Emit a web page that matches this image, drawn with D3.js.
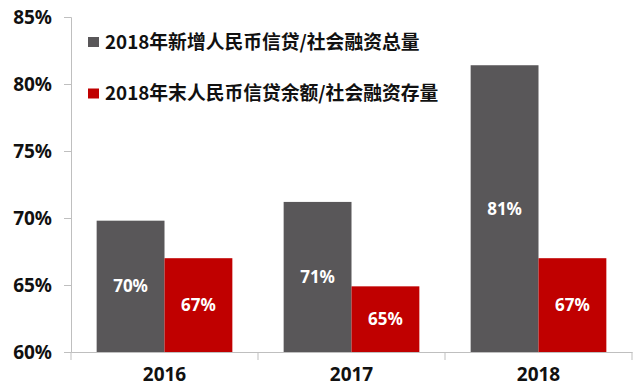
<!DOCTYPE html>
<html><head><meta charset="utf-8">
<script src="https://cdn.jsdelivr.net/npm/d3@7"></script>
<style>body{margin:0;background:#fff;} svg{display:block;font-family:"Noto Sans CJK SC","Noto Sans",sans-serif;}</style>
</head><body>
<svg id="c" width="641" height="391"></svg>
<script>
const categories = ["2016", "2017", "2018"];
const seriesNames = ["2018年新增人民币信贷/社会融资总量", "2018年末人民币信贷余额/社会融资存量"];
const newLoanShare = [69.8, 71.2, 81.4];
const stockLoanShare = [67.0, 64.9, 67.0];
const labelsNew = ["70%", "71%", "81%"];
const labelsStock = ["67%", "65%", "67%"];
const yTicks = [60, 65, 70, 75, 80, 85];
const colors = ["#595759", "#c00000"];

const svg = d3.select("#c");
const x0 = 71, x1 = 632, yTop = 17, yBot = 352;
const x = d3.scaleBand().domain(categories).range([x0, x1]).paddingInner(0).paddingOuter(0);
const xs = d3.scaleBand().domain([0, 1]).range([0, x.bandwidth()]).paddingInner(0).paddingOuter(0.378);
const y = d3.scaleLinear().domain([60, 85]).range([yBot, yTop]);

// y axis
const yAxis = svg.append("g").attr("transform", `translate(${x0},0)`)
  .call(d3.axisLeft(y).tickValues(yTicks).tickFormat(d => d + "%").tickSize(7).tickPadding(12));
yAxis.select(".domain").attr("stroke", "#bfbfbf");
yAxis.selectAll(".tick line").attr("stroke", "#bfbfbf");
yAxis.selectAll("text").attr("font-size", 19).attr("font-weight", "bold").attr("fill", "#111")
  .attr("font-family", "'Noto Sans','Noto Sans CJK SC',sans-serif");

// x axis
const xAxis = svg.append("g").attr("transform", `translate(0,${yBot})`)
  .call(d3.axisBottom(x).tickSize(0).tickPadding(16));
xAxis.select(".domain").attr("stroke", "#bfbfbf");
xAxis.selectAll("text").attr("font-size", 19).attr("font-weight", "bold").attr("fill", "#111")
  .attr("font-family", "'Noto Sans','Noto Sans CJK SC',sans-serif");
// category boundary ticks
svg.append("g").selectAll("line").data(categories.concat(["end"])).join("line")
  .attr("x1", (d, i) => i < categories.length ? x(d) : x1)
  .attr("x2", (d, i) => i < categories.length ? x(d) : x1)
  .attr("y1", yBot).attr("y2", yBot + 8).attr("stroke", "#bfbfbf");

const series = [newLoanShare, stockLoanShare];
const labels = [labelsNew, labelsStock];
series.forEach((vals, s) => {
  const g = svg.append("g");
  g.selectAll("rect").data(vals).join("rect")
    .attr("x", (d, i) => x(categories[i]) + xs(s))
    .attr("width", xs.bandwidth())
    .attr("y", d => y(d))
    .attr("height", d => y(60) - y(d))
    .attr("fill", colors[s]);
  g.selectAll("text").data(vals).join("text")
    .attr("x", (d, i) => x(categories[i]) + xs(s) + xs.bandwidth() / 2)
    .attr("y", d => (y(d) + y(60)) / 2)
    .attr("dy", "0.35em")
    .attr("text-anchor", "middle")
    .attr("fill", "#fff").attr("font-weight", "bold").attr("font-size", 17)
    .attr("font-family", "'Noto Sans','Noto Sans CJK SC',sans-serif")
    .text((d, i) => labels[s][i]);
});

// legend
const leg = svg.append("g");
seriesNames.forEach((n, i) => {
  const cy = 42 + i * 51.5;
  leg.append("rect").attr("x", 88).attr("y", cy - 5).attr("width", 11).attr("height", 10).attr("fill", colors[i]);
  leg.append("text").attr("x", 105).attr("y", cy).attr("dy", "0.35em")
    .attr("font-size", 18.8).attr("font-weight", "bold").attr("fill", "#111").text(n);
});
</script>
</body></html>
